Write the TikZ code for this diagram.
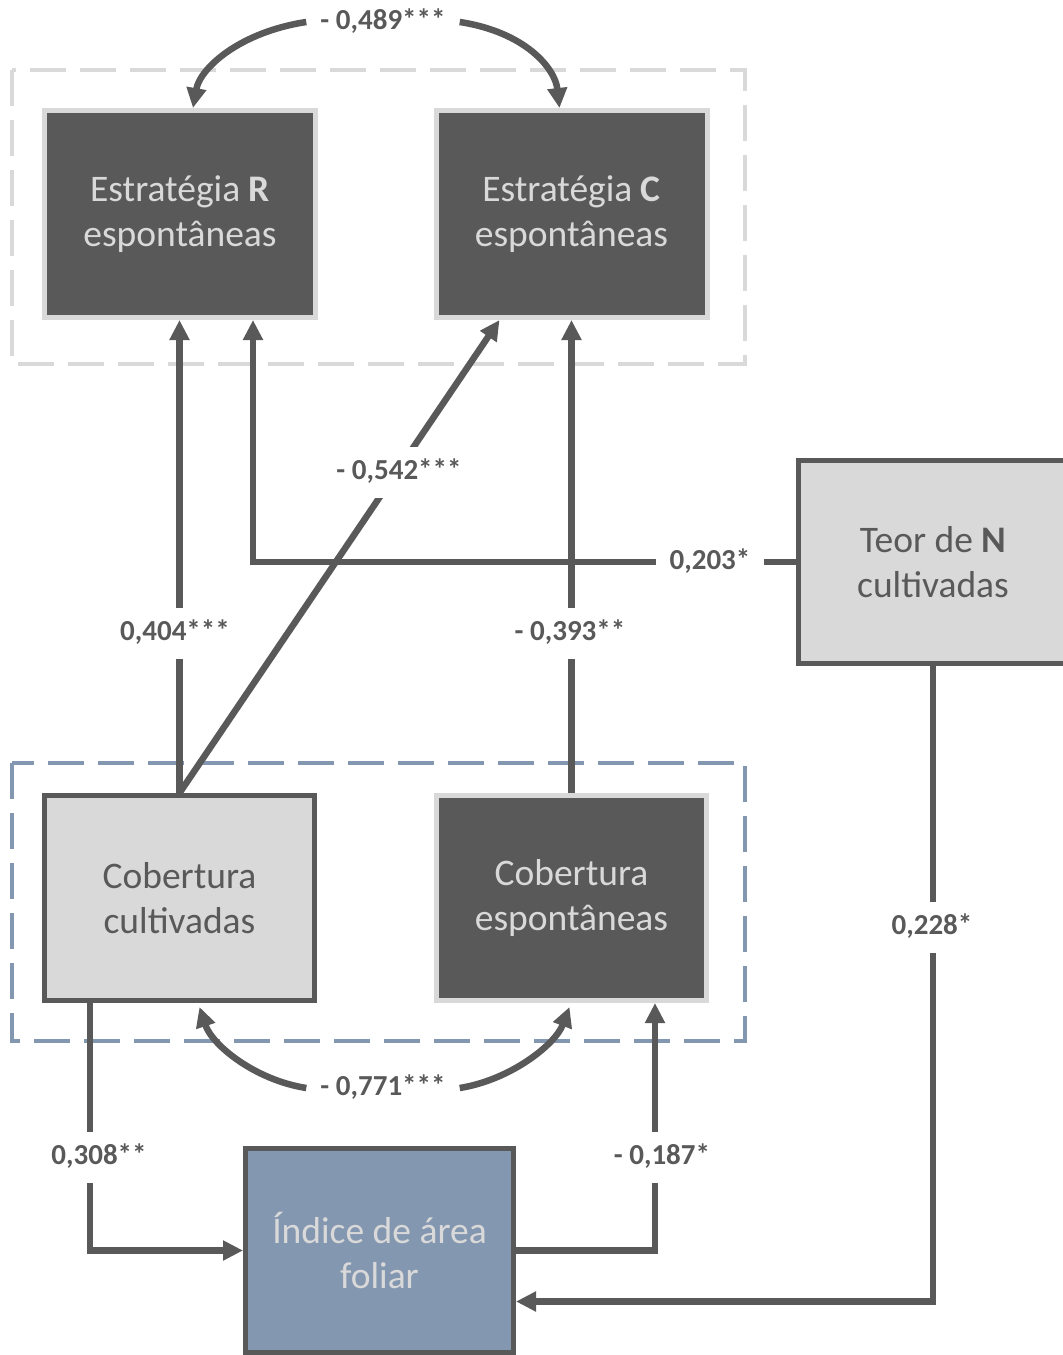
\documentclass[tikz,border=0pt]{standalone}
\usepackage{fontspec}
\setmainfont{Carlito}
\usetikzlibrary{arrows.meta}
\definecolor{dk}{HTML}{595959}
\definecolor{lt}{HTML}{D9D9D9}
\definecolor{bl}{HTML}{8497B0}
\begin{document}
\begin{tikzpicture}[x=1pt,y=-1pt,
 boxtxt/.style={font=\fontsize{37.5}{45}\selectfont, align=center, line width=5pt, minimum width=271pt, minimum height=207pt, inner sep=0pt},
 darkbox/.style={boxtxt, fill=dk, draw=lt, text=lt},
 lightbox/.style={boxtxt, fill=lt, draw=dk, text=dk},
 bluebox/.style={boxtxt, fill=bl, draw=dk, text=lt},
 conn/.style={draw=dk, line width=6.5pt, -{Triangle[length=20pt,width=19pt]}},
 lbl/.style={fill=white, text=dk, font=\fontsize{29}{35}\selectfont\bfseries, inner xsep=14pt, inner ysep=14pt, text height=19pt, text depth=4pt},
 grp/.style={line width=4pt, dash pattern=on 36pt off 14pt}
]
\useasboundingbox (0,0) rectangle (1063,1355);
\fill[white] (0,0) rectangle (1063,1355);

% groups
\draw[grp, draw=lt] (12,70) rectangle (745,364);
\draw[grp, draw=bl] (12,763) rectangle (745,1041);

% boxes
\node[darkbox] (R) at (180,214) {Estratégia \textbf{R}\\espontâneas};
\node[darkbox] (C) at (571.5,214) {Estratégia \textbf{C}\\espontâneas};
\node[lightbox, minimum width=269pt, minimum height=203pt] (T) at (933,562) {Teor de \textbf{N}\\cultivadas};
\node[lightbox, minimum width=270pt, minimum height=205pt] (CC) at (179.5,898) {Cobertura\\cultivadas};
\node[darkbox, minimum width=270pt, minimum height=205pt] (CE) at (571.5,898) {Cobertura\\espontâneas};
\node[bluebox, minimum width=268pt, minimum height=204pt] (I) at (379.5,1250.5) {Índice de área\\foliar};

% straight connectors
\draw[conn] (CC.north) -- (CC.north |- R.south);
\draw[conn] (CC.north) -- ([xshift=66pt]C.south west);
\draw[conn] (T.west) -| ([xshift=211pt]R.south west);
\draw[conn] (CE.north) -- (C.south);
\draw[conn] (T.south) |- ([yshift=-51pt]I.east);
\draw[conn] ([xshift=48pt]CC.south west) |- (I.west);
\draw[conn] (I.east) -| ([xshift=-54pt]CE.south east);

% labels
\node[lbl] (l404) at (175,633) {0,404***};
\node[lbl] (l542) at (399,472) {- 0,542***};
\node[lbl] (l203) at (710,562) {0,203*};
\node[lbl] (l393) at (570,633) {- 0,393**};
\node[lbl] (l228) at (932,927) {0,228*};
\node[lbl] (l308) at (99,1157) {0,308**};
\node[lbl] (l187) at (662,1157) {- 0,187*};
\node[lbl] (l489) at (383,22) {- 0,489***};
\node[lbl] (l771) at (383,1088) {- 0,771***};

% curved connectors
\draw[conn] (l489.west) .. controls (240,32) and (200,68) .. ([xshift=13pt]R.north);
\draw[conn] (l489.east) .. controls (525,32) and (555,68) .. ([xshift=-12pt]C.north);
\draw[conn] (l771.west) .. controls (255,1080) and (212,1045) .. ([xshift=20pt,yshift=-4pt]CC.south);
\draw[conn] (l771.east) .. controls (510,1080) and (555,1045) .. ([xshift=-2pt,yshift=-4pt]CE.south);
\end{tikzpicture}
\end{document}
